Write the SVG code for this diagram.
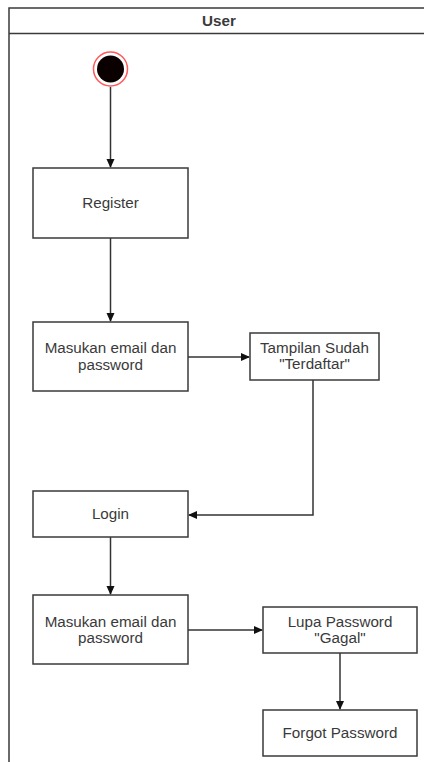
<svg xmlns="http://www.w3.org/2000/svg" width="424" height="762" viewBox="0 0 424 762">
<style>
.box{fill:#ffffff;stroke:#3a3a3a;stroke-width:1.5}
.lbl{font-family:"Liberation Sans",Arial,sans-serif;font-size:15.2px;fill:#3a3a3a;text-anchor:middle}
.edge{fill:none;stroke:#333333;stroke-width:1.5}
</style>
<defs>
<marker id="arr" markerWidth="10" markerHeight="10" refX="8" refY="4" orient="auto" markerUnits="userSpaceOnUse">
<path d="M0,0 L9,4 L0,8 Z" fill="#111111"/>
</marker>
</defs>
<rect width="424" height="762" fill="#ffffff"/>
<g id="lane">
<path d="M430,8 H9 V770" fill="none" stroke="#3a3a3a" stroke-width="1.5"/>
<line x1="9" y1="33.5" x2="430" y2="33.5" stroke="#3a3a3a" stroke-width="1.5"/>
<text x="219" y="26" class="lbl" style="font-weight:bold">User</text>
</g>
<g id="connectors">
<line class="edge" x1="110.5" y1="87" x2="110.5" y2="167" marker-end="url(#arr)"/>
<line class="edge" x1="110.5" y1="238" x2="110.5" y2="321" marker-end="url(#arr)"/>
<line class="edge" x1="188" y1="357" x2="249" y2="357" marker-end="url(#arr)"/>
<polyline class="edge" points="313,380 313,515 189,515" marker-end="url(#arr)"/>
<line class="edge" x1="110.5" y1="537" x2="110.5" y2="594" marker-end="url(#arr)"/>
<line class="edge" x1="188" y1="630" x2="262" y2="630" marker-end="url(#arr)"/>
<line class="edge" x1="340" y1="653" x2="340" y2="709" marker-end="url(#arr)"/>
</g>
<g id="start">
<circle cx="110.5" cy="69" r="17" fill="#ffffff" stroke="#ff5a5a" stroke-width="1.5"/>
<circle cx="110.5" cy="69" r="13.5" fill="#0a0000"/>
</g>
<g id="register">
<rect class="box" x="33" y="168" width="155" height="70"/>
<text class="lbl" x="110.5" y="208">Register</text>
</g>
<g id="masukan1">
<rect class="box" x="33" y="322" width="155" height="69"/>
<text class="lbl" x="110.5" y="353">Masukan email dan</text>
<text class="lbl" x="110.5" y="370">password</text>
</g>
<g id="tampilan">
<rect class="box" x="250" y="333" width="129" height="47"/>
<text class="lbl" x="314.5" y="353">Tampilan Sudah</text>
<text class="lbl" x="314.5" y="369">"Terdaftar"</text>
</g>
<g id="login">
<rect class="box" x="33" y="491" width="155" height="46"/>
<text class="lbl" x="110.5" y="519">Login</text>
</g>
<g id="masukan2">
<rect class="box" x="33" y="595" width="155" height="69"/>
<text class="lbl" x="110.5" y="627">Masukan email dan</text>
<text class="lbl" x="110.5" y="643">password</text>
</g>
<g id="lupa">
<rect class="box" x="263" y="607" width="154" height="46"/>
<text class="lbl" x="340" y="627">Lupa Password</text>
<text class="lbl" x="340" y="643">"Gagal"</text>
</g>
<g id="forgot">
<rect class="box" x="263" y="710" width="154" height="46"/>
<text class="lbl" x="340" y="738">Forgot Password</text>
</g>
</svg>
